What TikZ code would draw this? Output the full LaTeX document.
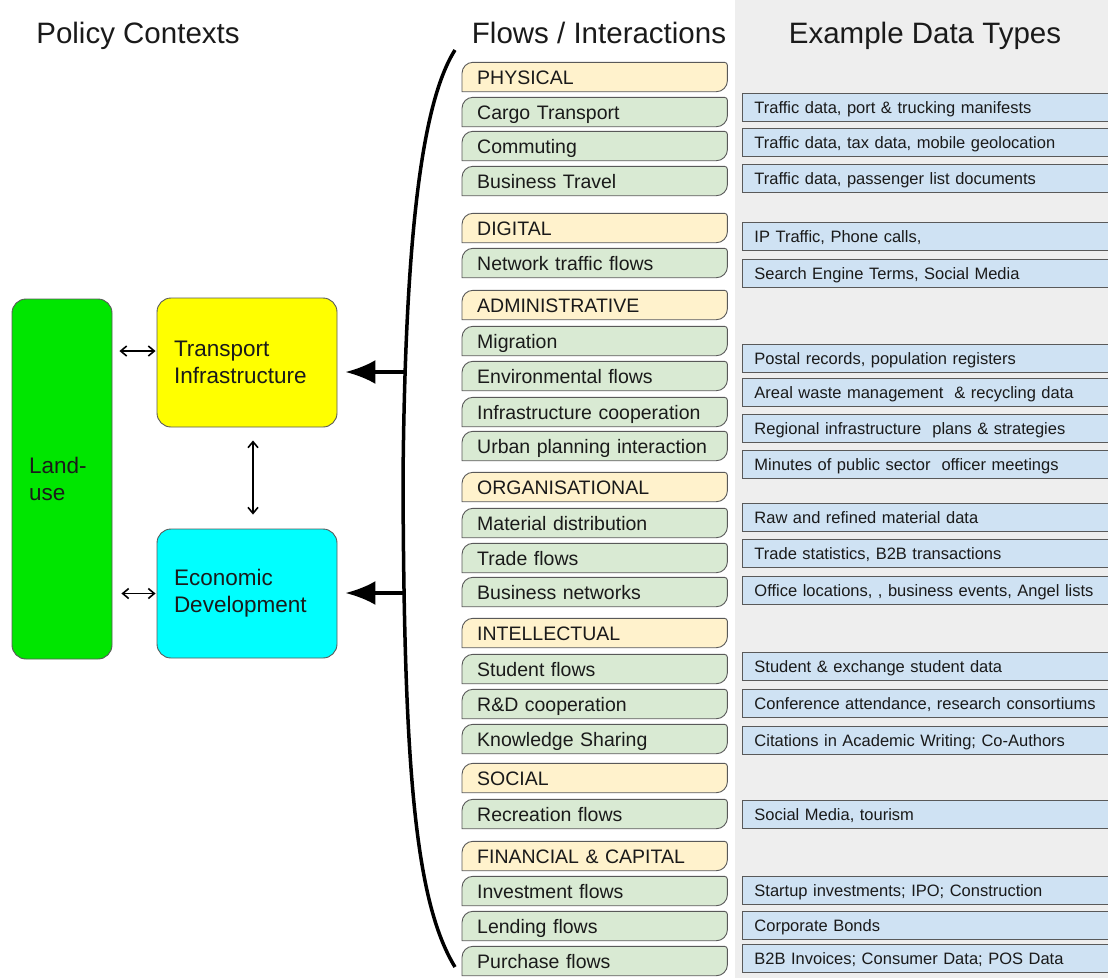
\documentclass[tikz,border=0pt]{standalone}
\usepackage{fontspec}
\setmainfont{Liberation Sans}
\usetikzlibrary{arrows.meta, backgrounds}

\definecolor{catfill}{HTML}{FFF2CC}
\definecolor{itemfill}{HTML}{D9EAD3}
\definecolor{datafill}{HTML}{CFE2F3}
\definecolor{panelgray}{HTML}{EEEEEE}
\definecolor{boxline}{HTML}{595959}
\definecolor{landgreen}{HTML}{00E600}
\definecolor{transyellow}{HTML}{FFFF00}
\definecolor{econcyan}{HTML}{00FFFF}
\definecolor{textdark}{HTML}{1A1A1A}

\tikzset{
  header/.style={anchor=base, font=\fontsize{29.5}{34}\selectfont},
  policy/.style={draw=boxline, line width=0.9pt, rounded corners=14pt, inner xsep=17pt,
    align=left, font=\fontsize{22.5}{27}\selectfont},
  flow/.style={anchor=west, minimum height=29pt, text width=235pt, inner xsep=15pt,
    inner ysep=0pt, text height=14pt, text depth=0pt, align=left, font=\fontsize{19.5}{22}\selectfont},
  data/.style={anchor=west, draw=boxline, fill=datafill, line width=0.9pt, minimum height=28pt,
    text width=346pt, inner xsep=12pt, inner ysep=0pt, text height=12.5pt, text depth=0pt,
    align=left, font=\fontsize{16.5}{19}\selectfont},
  tab/.style={insert path={(#1.south west) -- ([yshift=-11pt]#1.north west)
    arc[start angle=180, end angle=90, radius=11pt] -- ([xshift=-3pt]#1.north east)
    arc[start angle=90, end angle=0, radius=3pt] -- ([yshift=11pt]#1.south east)
    arc[start angle=0, end angle=-90, radius=11pt] -- cycle}},
  dbl/.style={{Straight Barb[length=6pt,width=10pt]}-{Straight Barb[length=6pt,width=10pt]}, line width=1.6pt},
  feed/.style={-{Latex[length=30pt,width=24pt]}, line width=3.5pt}
}

\begin{document}
\begin{tikzpicture}[x=1pt, y=1pt, text=textdark]
\useasboundingbox (0,0) rectangle (1108,-978);

% Data type column
\fill[panelgray] (735,0) rectangle (1108,-978);

% Column titles
\node[header] (tpol) at (138,-43.5) {Policy Contexts};
\node[header] (tflow) at (599,-43.5) {Flows / Interactions};
\node[header] (tdata) at (925,-43.5) {Example Data Types};

% Policy contexts
\node[policy, fill=landgreen, minimum width=100pt, minimum height=360pt, text width=66pt] (land) at (62,-479) {Land-\\use};
\node[policy, fill=transyellow, minimum width=180pt, minimum height=129pt, text width=146pt] (trans) at (247,-362.5) {Transport\\Infrastructure};
\node[policy, fill=econcyan, minimum width=180pt, minimum height=129pt, text width=146pt] (econ) at (247,-593.5) {Economic\\Development};

% Flows / interactions
\node[flow] (phys) at (462,-77) {PHYSICAL};
\node[flow] (cargo) at (462,-112) {Cargo Transport};
\node[flow] (commute) at (462,-146) {Commuting};
\node[flow] (btravel) at (462,-181) {Business Travel};
\node[flow] (digi) at (462,-228) {DIGITAL};
\node[flow] (nettraf) at (462,-263) {Network traffic flows};
\node[flow] (admin) at (462,-305) {ADMINISTRATIVE};
\node[flow] (migr) at (462,-341) {Migration};
\node[flow] (envir) at (462,-376) {Environmental flows};
\node[flow] (infra) at (462,-412) {Infrastructure cooperation};
\node[flow] (urban) at (462,-446) {Urban planning interaction};
\node[flow] (org) at (462,-487) {ORGANISATIONAL};
\node[flow] (matdist) at (462,-523) {Material distribution};
\node[flow] (trade) at (462,-558) {Trade flows};
\node[flow] (bizz) at (462,-592) {Business networks};
\node[flow] (intel) at (462,-633) {INTELLECTUAL};
\node[flow] (student) at (462,-669) {Student flows};
\node[flow] (rnd) at (462,-704) {R\&D cooperation};
\node[flow] (know) at (462,-739) {Knowledge Sharing};
\node[flow] (soc) at (462,-778) {SOCIAL};
\node[flow] (recr) at (462,-814) {Recreation flows};
\node[flow] (fin) at (462,-856) {FINANCIAL \& CAPITAL};
\node[flow] (invest) at (462,-891) {Investment flows};
\node[flow] (lend) at (462,-926) {Lending flows};
\node[flow] (purch) at (462,-961) {Purchase flows};

% tab shapes behind the flow labels
\begin{scope}[on background layer]
\foreach \n in {phys,digi,admin,org,intel,soc,fin}
  \draw[draw=boxline, fill=catfill, line width=0.9pt] [tab=\n];
\foreach \n in {cargo,commute,btravel,nettraf,migr,envir,infra,urban,matdist,trade,bizz,student,rnd,know,recr,invest,lend,purch}
  \draw[draw=boxline, fill=itemfill, line width=0.9pt] [tab=\n];
\end{scope}

% Example data types
\node[data] (dcargo) at (742,-107) {Traffic data, port \& trucking manifests};
\node[data] (dcommute) at (742,-142) {Traffic data, tax data, mobile geolocation};
\node[data] (dtravel) at (742,-178) {Traffic data, passenger list documents};
\node[data] (dip) at (742,-236) {IP Traffic, Phone calls,};
\node[data] (dsearch) at (742,-273) {Search Engine Terms, Social Media};
\node[data] (dpostal) at (742,-358) {Postal records, population registers};
\node[data] (dwaste) at (742,-392) {Areal waste management \ \& recycling data};
\node[data] (dplans) at (742,-428) {Regional infrastructure \ plans \& strategies};
\node[data] (dminutes) at (742,-464) {Minutes of public sector \ officer meetings};
\node[data] (dmat) at (742,-517) {Raw and refined material data};
\node[data] (dtrade) at (742,-553) {Trade statistics, B2B transactions};
\node[data] (doffice) at (742,-590) {Office locations, , business events, Angel lists};
\node[data] (dstudent) at (742,-666) {Student \& exchange student data};
\node[data] (dconf) at (742,-703) {Conference attendance, research consortiums};
\node[data] (dcite) at (742,-740) {Citations in Academic Writing; Co-Authors};
\node[data] (dsocial) at (742,-814) {Social Media, tourism};
\node[data] (dstartup) at (742,-890) {Startup investments; IPO; Construction};
\node[data] (dbonds) at (742,-925) {Corporate Bonds};
\node[data] (dinvoice) at (742,-958) {B2B Invoices; Consumer Data; POS Data};

% Bracket gathering the flows
\draw[line width=3.5pt] (455,-50) .. controls (420,-105) and (405,-250) .. (403,-480)
  .. controls (404,-760) and (414,-900) .. (455,-967);
\coordinate (bt) at (404,-372);
\coordinate (be) at (403,-593);
\draw[feed, shorten >=8pt] (bt) -- (bt -| trans.east);
\draw[feed, shorten >=8pt] (be) -- (be -| econ.east);

% Links between policy contexts
\coordinate (tl) at ([yshift=11.5pt]trans.west);
\coordinate (vt) at ([xshift=6pt]trans.south);
\draw[dbl, shorten <=7pt, shorten >=1pt] (tl -| land.east) -- (tl);
\draw[dbl, shorten <=9pt, shorten >=1pt] (econ.west -| land.east) -- (econ.west);
\draw[dbl, shorten <=13pt, shorten >=14pt] (vt) -- (vt |- econ.north);

\end{tikzpicture}
\end{document}
